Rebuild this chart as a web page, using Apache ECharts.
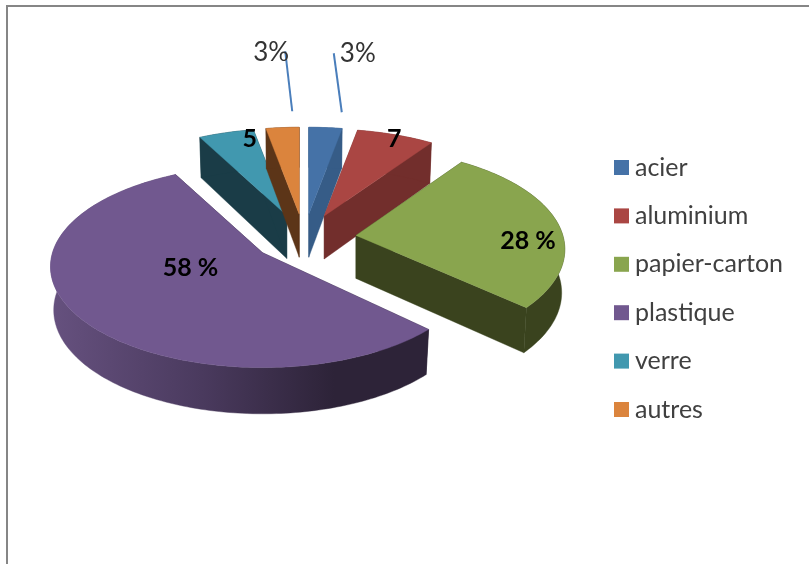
<!DOCTYPE html>
<html>
<head>
<meta charset="utf-8">
<style>html,body{margin:0;padding:0;background:#fff}#c{width:809px;height:564px;filter:blur(0.45px)}</style>
<script src="https://cdn.jsdelivr.net/npm/echarts@6/dist/echarts.min.js"></script>
</head>
<body>
<div id="c"></div>
<script>
const categories = ['acier', 'aluminium', 'papier-carton', 'plastique', 'verre', 'autres'];
const values = [3, 7, 28, 58, 5, 3];
const labelTexts = ['3%', '7', '28 %', '58 %', '5', '3%'];

const topColors = ['#4572a7', '#aa4643', '#89a54e', '#71588f', '#4198af', '#db843d'];
const sideColors = ['#365c87', '#722e2c', '#3a431e', '#2d2338', '#1a3c47', '#5c3518'];
const zOrder = [3, 4, 5, 6, 1, 2];

// label placement relative to each slice's apex; leader is [x1,y1,x2,y2] relative too
const labelLayout = [
  { dx: 49, dy: -161, leader: [33, -102, 25, -161] },
  { dx: 70, dy: -77, bold: true },
  { dx: 172, dy: 6, bold: true },
  { dx: -72, dy: 15, bold: true },
  { dx: -37, dy: -77, bold: true },
  { dx: -28, dy: -162, leader: [-7, -103, -14, -163] }
];
// fine placement of each exploded slice, its horizontal scale, and trim of its first edge (radians)
const apexNudge = [[1, -1], [1, -1], [-1, -1.5], [3.5, -3.5], [1, -1], [1, -1]];
const widthScale = [1, 1, 0.985, 1, 1, 1];
const startTrim = [0, 0, 0, 0.05, 0, 0];

const CX = 303, CY = 240, RX = 210, RY = 99, PERSP = 0.138, EXPLODE = 0.26, DEPTH = 43, DEPTH_PERSP = 0.07, BOTTOM_SCALE = 0.985;
const FONT = 'Lato, "Open Sans", sans-serif';
const total = values.reduce((a, b) => a + b, 0);

function angles(i) {
  let before = 0;
  for (let k = 0; k < i; k++) before += values[k];
  return [before / total * 2 * Math.PI, (before + values[i]) / total * 2 * Math.PI];
}
function apexOf(i) {
  const [a, b] = angles(i), m = (a + b) / 2;
  const u = Math.sin(m), v = -Math.cos(m), d = 1 - PERSP * EXPLODE * v;
  return [CX + apexNudge[i][0] + EXPLODE * RX * u / d, CY + apexNudge[i][1] + EXPLODE * RY * v / d];
}
function rim(i, apex, t) {
  const u = Math.sin(t), v = -Math.cos(t), d = 1 - PERSP * v;
  return [apex[0] + widthScale[i] * RX * u / d, apex[1] + RY * v / d, 1 - DEPTH_PERSP * v];
}
function down(apex, p, d) {
  return [apex[0] + (p[0] - apex[0]) * BOTTOM_SCALE, p[1] + DEPTH / d];
}
function arc(i, apex, a, b) {
  const n = Math.max(4, Math.ceil((b - a) / 0.02)), pts = [];
  for (let k = 0; k <= n; k++) pts.push(rim(i, apex, a + (b - a) * k / n));
  return pts;
}

function renderSlice(i) {
  const ang = angles(i), a = ang[0] + startTrim[i], b = ang[1], apex = apexOf(i);
  const top = arc(i, apex, a, b);
  const kids = [];
  const poly = (points, fill) => ({ type: 'polygon', shape: { points }, style: { fill, stroke: fill, lineWidth: 0.4 } });
  const lowApex = [apex[0], apex[1] + DEPTH];
  for (const t of [a, b]) {
    const p = rim(i, apex, t);
    kids.push(poly([apex, [p[0], p[1]], down(apex, p, p[2]), lowApex], sideColors[i]));
  }
  const wall = top.map(p => [p[0], p[1]]).concat(top.slice().reverse().map(p => down(apex, p, p[2])));
  const wallFill = categories[i] === 'plastique'
    ? { type: 'linear', x: 0, y: 0, x2: 1, y2: 0, colorStops: [
        { offset: 0, color: '#66517f' }, { offset: 0.4, color: '#4a3a5e' },
        { offset: 0.75, color: '#2d2338' }, { offset: 1, color: '#2d2338' }] }
    : sideColors[i];
  kids.push(poly(wall, wallFill));
  kids.push(poly([apex].concat(top.map(p => [p[0], p[1]])), topColors[i]));

  const lay = labelLayout[i];
  if (lay.leader) {
    kids.push({ type: 'line',
      shape: { x1: apex[0] + lay.leader[0], y1: apex[1] + lay.leader[1], x2: apex[0] + lay.leader[2], y2: apex[1] + lay.leader[3] },
      style: { stroke: '#4a7ebb', lineWidth: 2 } });
  }
  kids.push({ type: 'text', z2: 10, style: {
    x: apex[0] + lay.dx, y: apex[1] + lay.dy, text: labelTexts[i],
    fontFamily: FONT, fontSize: lay.bold ? 25 : 26,
    fontWeight: lay.bold ? 700 : 400,
    fill: lay.leader ? '#333333' : '#000000', align: 'center', verticalAlign: 'middle' } });
  return { type: 'group', children: kids };
}

const chart = echarts.init(document.getElementById('c'), null, { renderer: 'canvas' });
chart.setOption({
  animation: false,
  backgroundColor: '#ffffff',
  color: topColors,
  legend: {
    orient: 'vertical', left: 614, top: 155, padding: 0,
    itemWidth: 15, itemHeight: 15, itemGap: 23.4, icon: 'rect',
    data: categories, selectedMode: false,
    textStyle: { fontFamily: FONT, fontSize: 25, lineHeight: 24, color: '#404040', padding: [0, 0, 0, 1] }
  },
  graphic: [
    { type: 'rect', silent: true, shape: { x: 6, y: 5, width: 803, height: 2 }, style: { fill: '#868686' } },
    { type: 'rect', silent: true, shape: { x: 6, y: 5, width: 2, height: 559 }, style: { fill: '#868686' } }
  ],
  series: categories.map((name, i) => ({
    type: 'custom', name, coordinateSystem: 'none', silent: true, z: zOrder[i],
    data: [[values[i]]],
    itemStyle: { color: topColors[i] },
    renderItem: () => renderSlice(i)
  }))
});
</script>
</body>
</html>
